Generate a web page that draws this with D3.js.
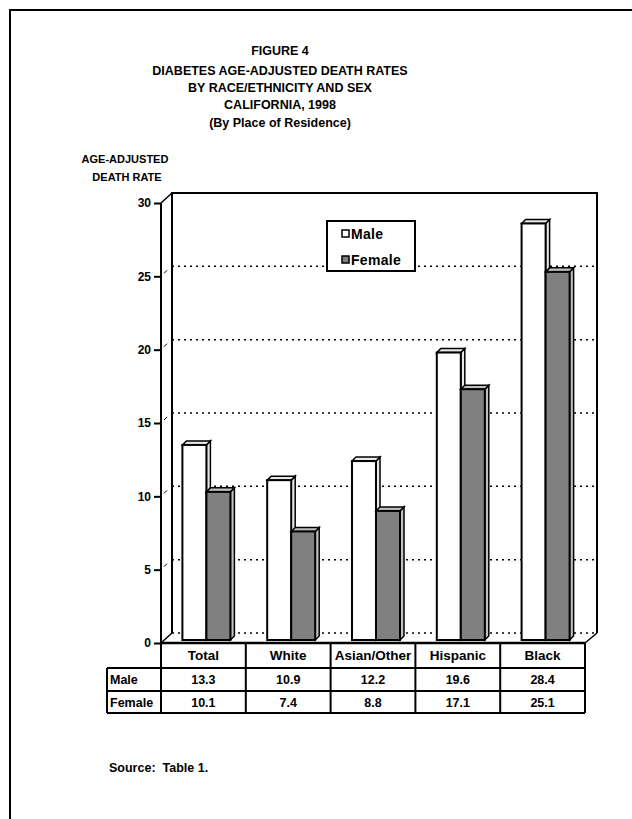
<!DOCTYPE html>
<html>
<head>
<meta charset="utf-8">
<script src="https://cdn.jsdelivr.net/npm/d3@7/dist/d3.min.js"></script>
<style>
  html, body { margin: 0; padding: 0; background: #fff; }
  svg { display: block; font-family: Arial, "Liberation Sans", Helvetica, sans-serif; font-weight: bold; }
</style>
</head>
<body>
<svg id="chart" width="632" height="819"></svg>
<script>
// Diabetes age-adjusted death rates, California 1998
const categories = ["Total", "White", "Asian/Other", "Hispanic", "Black"];
const seriesNames = ["Male", "Female"];
const maleRates = [13.3, 10.9, 12.2, 19.6, 28.4];
const femaleRates = [10.1, 7.4, 8.8, 17.1, 25.1];
const yTicks = [0, 5, 10, 15, 20, 25, 30];
const titleLines = [
  "FIGURE 4",
  "DIABETES AGE-ADJUSTED DEATH RATES",
  "BY RACE/ETHNICITY AND SEX",
  "CALIFORNIA, 1998",
  "(By Place of Residence)"
];

const svg = d3.select("#chart");

// page frame (left and top rules)
svg.append("path").attr("d", "M10,819 V10 H632")
  .attr("fill", "none").attr("stroke", "#000").attr("stroke-width", 2);

// titles
svg.append("g").selectAll("text").data(titleLines).join("text")
  .attr("x", 280).attr("y", (d, i) => i === 0 ? 55 : 75 + (i - 1) * 17.2)
  .attr("text-anchor", "middle").attr("font-size", 12.5).text(d => d);

svg.append("text").attr("x", 125).attr("y", 163).attr("text-anchor", "middle")
  .attr("font-size", 11).text("AGE-ADJUSTED");
svg.append("text").attr("x", 127).attr("y", 181).attr("text-anchor", "middle")
  .attr("font-size", 11).text("DEATH RATE");

// plot geometry: front plane + depth offset for the 3-D box
const plotL = 161, plotR = 585, plotB = 643, plotT = 203;
const depth = { dx: 11, dy: -10 };
const barShift = { dx: 3, dy: -3 };
const barDepth = 4;

const x = d3.scaleBand().domain(categories).range([plotL, plotR]);
const y = d3.scaleLinear().domain([0, 30]).range([plotB, plotT]);
const xs = d3.scaleBand().domain(seriesNames).range([0, 48]);

const g = svg.append("g");

// back wall outline
const bx0 = plotL + depth.dx, bx1 = plotR + 12;
g.append("path")
  .attr("d", `M${bx0},${y(0) + depth.dy} V${y(30) + depth.dy} H${bx1} V${y(0) + depth.dy}`)
  .attr("fill", "none").attr("stroke", "#000").attr("stroke-width", 2);

// dotted gridlines on the back wall and their trace on the side wall
const gridVals = yTicks.filter(v => v > 0 && v < 30);
g.selectAll(".grid").data(gridVals.concat([0])).join("line")
  .attr("x1", bx0).attr("x2", bx1)
  .attr("y1", d => y(d) + depth.dy).attr("y2", d => y(d) + depth.dy)
  .attr("stroke", "#000").attr("stroke-width", 1.5).attr("stroke-dasharray", "2,4");
g.selectAll(".gridside").data(gridVals).join("line")
  .attr("x1", plotL + 3).attr("x2", plotL + 6)
  .attr("y1", d => y(d) - 3).attr("y2", d => y(d) - 6)
  .attr("stroke", "#000").attr("stroke-width", 1);

// bars as small 3-D boxes
const seriesData = [
  { name: "Male", values: maleRates, front: "#ffffff", side: "#e8e8e8" },
  { name: "Female", values: femaleRates, front: "#808080", side: "#c0c0c0" }
];
const barW = xs.bandwidth();
seriesData.forEach(s => {
  const bars = g.append("g");
  s.values.forEach((v, i) => {
    const x0 = x(categories[i]) + x.bandwidth() / 2 - 24 + xs(s.name) + barShift.dx;
    const x1 = x0 + barW;
    const yb = y(0) + barShift.dy;
    const yt = y(v) + barShift.dy;
    const dx = barDepth, dy = -barDepth;
    // side face
    bars.append("path")
      .attr("d", `M${x1},${yb} V${yt} L${x1 + dx},${yt + dy} V${yb + dy} Z`)
      .attr("fill", s.side).attr("stroke", "#000").attr("stroke-width", 1.5);
    // top face
    bars.append("path")
      .attr("d", `M${x0},${yt} L${x0 + dx},${yt + dy} H${x1 + dx} L${x1},${yt} Z`)
      .attr("fill", s.side).attr("stroke", "#000").attr("stroke-width", 1.5);
    // front face
    bars.append("rect")
      .attr("x", x0).attr("y", yt).attr("width", barW).attr("height", yb - yt)
      .attr("fill", s.front).attr("stroke", "#000").attr("stroke-width", 2);
  });
});

// floor edges and the front frame
g.append("path")
  .attr("d", `M${plotL},${plotT} L${plotL + depth.dx},${plotT + depth.dy}`)
  .attr("stroke", "#000").attr("stroke-width", 1.5).attr("fill", "none");
g.append("path")
  .attr("d", `M${plotL},${plotB} L${plotL + depth.dx},${plotB + depth.dy}`)
  .attr("stroke", "#000").attr("stroke-width", 1.5).attr("fill", "none");
g.append("path")
  .attr("d", `M${plotR},${plotB} L${bx1},${plotB + depth.dy}`)
  .attr("stroke", "#000").attr("stroke-width", 1.5).attr("fill", "none");
g.append("line").attr("x1", plotL).attr("x2", plotR).attr("y1", plotB).attr("y2", plotB)
  .attr("stroke", "#000").attr("stroke-width", 2.5);

// y axis
const yAxis = d3.axisLeft(y).tickValues(yTicks).tickSize(7).tickPadding(3).tickFormat(d3.format("d"));
const ax = svg.append("g").attr("transform", `translate(${plotL},0)`).call(yAxis);
ax.select(".domain").attr("d", `M0,${plotT}V${plotB}`).attr("stroke-width", 2);
ax.selectAll(".tick line").attr("stroke-width", 2);
ax.selectAll("text").attr("font-size", 12).attr("font-weight", "bold")
  .attr("font-family", "Arial, 'Liberation Sans', sans-serif").attr("fill", "#000");

// legend
const lg = svg.append("g");
lg.append("rect").attr("x", 327).attr("y", 221).attr("width", 88).attr("height", 50)
  .attr("fill", "#fff").attr("stroke", "#000").attr("stroke-width", 2);
seriesData.forEach((s, i) => {
  lg.append("rect").attr("x", 342).attr("y", 230 + i * 26).attr("width", 7).attr("height", 7)
    .attr("fill", s.front).attr("stroke", "#000").attr("stroke-width", 1.5);
  lg.append("text").attr("x", 351).attr("y", 238.5 + i * 26).attr("font-size", 14)
    .attr("letter-spacing", 0.3).text(s.name);
});

// data table under the axis
const rowTops = [plotB, 668, 691, 713];
const tbl = svg.append("g");
const tableLeft = 107;
tbl.append("line").attr("x1", plotL).attr("x2", plotL).attr("y1", plotB).attr("y2", rowTops[3])
  .attr("stroke", "#000").attr("stroke-width", 2);
categories.forEach(c => {
  tbl.append("line").attr("x1", x(c) + x.bandwidth()).attr("x2", x(c) + x.bandwidth())
    .attr("y1", plotB).attr("y2", rowTops[3]).attr("stroke", "#000").attr("stroke-width", 2);
});
[1, 2, 3].forEach(r => {
  tbl.append("line").attr("x1", tableLeft).attr("x2", plotR).attr("y1", rowTops[r]).attr("y2", rowTops[r])
    .attr("stroke", "#000").attr("stroke-width", 2);
});
tbl.append("line").attr("x1", tableLeft).attr("x2", tableLeft).attr("y1", rowTops[1]).attr("y2", rowTops[3])
  .attr("stroke", "#000").attr("stroke-width", 2);

tbl.selectAll(".cat").data(categories).join("text")
  .attr("x", d => x(d) + x.bandwidth() / 2).attr("y", 660)
  .attr("text-anchor", "middle").attr("font-size", 13.5).text(d => d);
const rows = [maleRates, femaleRates];
rows.forEach((vals, r) => {
  const yy = rowTops[r + 1] + 16;
  tbl.append("text").attr("x", tableLeft + 3).attr("y", yy).attr("font-size", 12.5).text(seriesNames[r]);
  tbl.selectAll(null).data(vals).join("text")
    .attr("x", (d, i) => x(categories[i]) + x.bandwidth() / 2).attr("y", yy)
    .attr("text-anchor", "middle").attr("font-size", 12.5).text(d => d.toFixed(1));
});

svg.append("text").attr("x", 109).attr("y", 772).attr("font-size", 12.5)
  .style("white-space", "pre").text("Source:  Table 1.");
</script>
</body>
</html>
